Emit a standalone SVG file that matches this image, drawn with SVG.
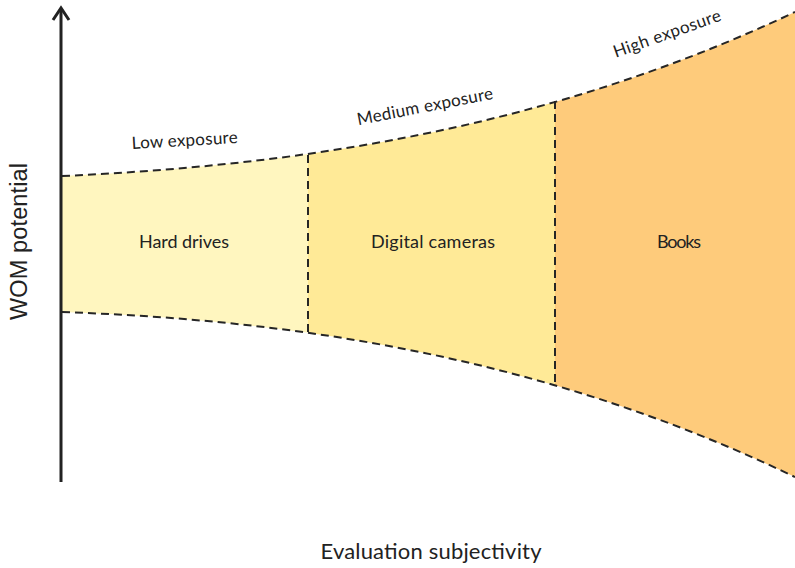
<svg xmlns="http://www.w3.org/2000/svg" width="795" height="568" viewBox="0 0 795 568">
<style>
.lbl{font-family:Lato,"DejaVu Sans",sans-serif;fill:#222;}
.dash{fill:none;stroke:#262626;stroke-width:2;stroke-dasharray:8 5;}
.axis{fill:none;stroke:#222;stroke-width:3;}
</style>
<defs>
<path id="shape" d="M62,176 C306,165 551,127 795,12 L795,477 C551,360 306,320.5 62,312 Z"/>
<clipPath id="c1"><rect x="60" y="0" width="248" height="568"/></clipPath>
<clipPath id="c2"><rect x="308" y="0" width="247" height="568"/></clipPath>
<clipPath id="c3"><rect x="555" y="0" width="240" height="568"/></clipPath>
</defs>
<g id="hard-drives">
<use href="#shape" fill="#FFF6BF" clip-path="url(#c1)"/>
<text class="lbl" x="184" y="248" font-size="18" text-anchor="middle" textLength="90">Hard drives</text>
</g>
<g id="digital-cameras">
<use href="#shape" fill="#FFEA97" clip-path="url(#c2)"/>
<text class="lbl" x="433" y="248" font-size="18" text-anchor="middle" textLength="124">Digital cameras</text>
</g>
<g id="books">
<use href="#shape" fill="#FECB7B" clip-path="url(#c3)"/>
<text class="lbl" x="679" y="248" font-size="18" text-anchor="middle" textLength="44">Books</text>
</g>
<g id="connectors">
<path class="dash" d="M62,176 C306,165 551,127 795,12"/>
<path class="dash" d="M62,312 C306,320.5 551,360 795,477"/>
<line class="dash" x1="308" y1="155" x2="308" y2="333"/>
<line class="dash" x1="555" y1="101" x2="555" y2="386"/>
<line class="axis" x1="61" y1="482" x2="61" y2="9"/>
<polyline class="axis" points="53,20 61,8 69,20" stroke-width="2.5"/>
</g>
<g id="curve-labels">
<text class="lbl" font-size="17" text-anchor="middle" textLength="106" transform="translate(185,146) rotate(-3.3)">Low exposure</text>
<text class="lbl" font-size="17" text-anchor="middle" textLength="138" transform="translate(426,112) rotate(-11)">Medium exposure</text>
<text class="lbl" font-size="17" text-anchor="middle" textLength="113" transform="translate(669,39) rotate(-19.5)">High exposure</text>
</g>
<g id="axis-labels">
<text x="27" y="241.5" font-family="'Liberation Sans',Arial,sans-serif" font-size="23.5" fill="#222" text-anchor="middle" textLength="157" transform="rotate(-90 27 241.5)">WOM potential</text>
<text class="lbl" x="431" y="559" font-size="22" text-anchor="middle" textLength="221">Evaluation subjectivity</text>
</g>
</svg>
